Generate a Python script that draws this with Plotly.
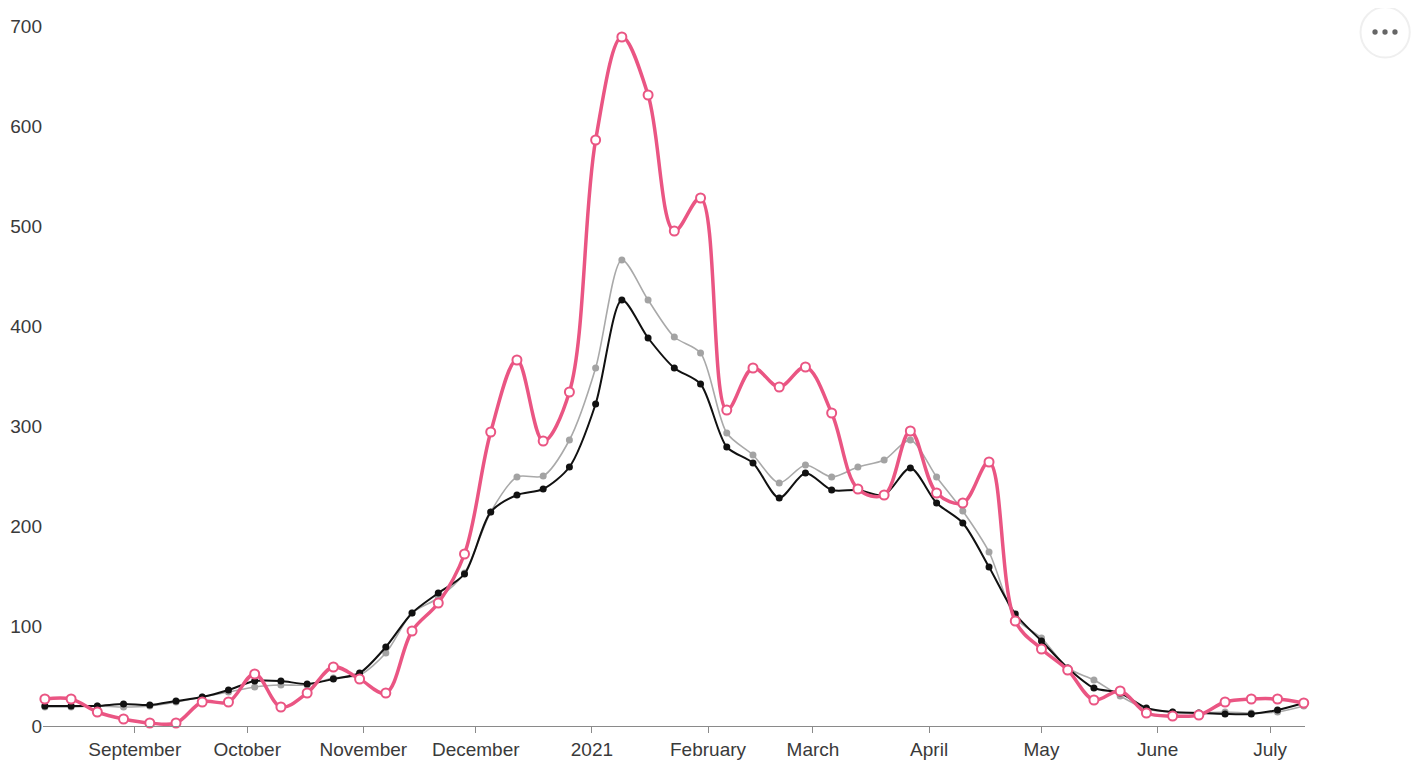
import pandas as pd
import plotly.graph_objects as go

# Weekly dates (Saturdays) from 2020-08-08 to 2021-07-10
dates = pd.date_range("2020-08-08", periods=49, freq="7D")

black_vals = [20, 20, 20, 22, 21, 25, 29, 36, 45, 45, 42, 47, 53, 79, 113, 133,
              152, 214, 231, 237, 259, 322, 426, 388, 358, 342, 279, 263, 228, 253,
              236, 236, 231, 258, 223, 203, 159, 112, 85, 58, 38, 33, 18, 14, 13,
              12, 12, 16, 23]

grey_vals = [19, 19, 20, 19, 20, 24, 29, 34, 39, 41, 41, 48, 51, 73, 113, 128,
             153, 214, 249, 250, 286, 358, 466, 426, 389, 373, 293, 271, 243, 261,
             249, 259, 266, 286, 249, 215, 174, 108, 88, 58, 46, 30, 17, 14, 13,
             14, 13, 14, 20]

pink_vals = [27, 27, 14, 7, 3, 3, 24, 24, 52, 19, 33, 59, 47, 33, 95, 123, 172,
             294, 366, 285, 334, 586, 689, 631, 495, 528, 316, 358, 339, 359, 313,
             237, 231, 295, 233, 223, 264, 105, 77, 56, 26, 35, 13, 10, 11, 24,
             27, 27, 23]

month_ticks = ["2020-09-01", "2020-10-01", "2020-11-01", "2020-12-01", "2021-01-01",
               "2021-02-01", "2021-03-01", "2021-04-01", "2021-05-01", "2021-06-01",
               "2021-07-01"]
month_labels = ["September", "October", "November", "December", "2021", "February",
                "March", "April", "May", "June", "July"]
y_ticks = [0, 100, 200, 300, 400, 500, 600, 700]

PINK = "#ea5583"
FONT = "Liberation Sans, Arial, sans-serif"

fig = go.Figure()
fig.add_trace(go.Scatter(
    x=dates, y=grey_vals, mode="lines+markers",
    line=dict(color="#a9a9a9", width=1.6, shape="spline", smoothing=0.8),
    marker=dict(color="#a3a3a3", size=7), cliponaxis=False, showlegend=False))
fig.add_trace(go.Scatter(
    x=dates, y=black_vals, mode="lines+markers",
    line=dict(color="#111111", width=2, shape="spline", smoothing=0.8),
    marker=dict(color="#111111", size=7), cliponaxis=False, showlegend=False))
fig.add_trace(go.Scatter(
    x=dates, y=pink_vals, mode="lines+markers",
    line=dict(color=PINK, width=3.5, shape="spline", smoothing=1.0),
    marker=dict(color="white", size=9, line=dict(color=PINK, width=2)),
    cliponaxis=False, showlegend=False))

# page body has an 8px margin, so the figure is sized/offset to compensate
fig.update_layout(
    width=1414, height=754,
    margin=dict(l=35, r=117, t=18, b=36),
    paper_bgcolor="white", plot_bgcolor="white",
    font=dict(family=FONT, size=19, color="#3a3a3a"),
    xaxis=dict(
        range=["2020-08-07 12:00", "2021-07-10 08:00"],
        tickvals=month_ticks, ticktext=month_labels,
        showgrid=False, zeroline=False, automargin=False,
        showline=True, linecolor="#8a8a8a", linewidth=1.2,
        ticks="outside", ticklen=6, tickcolor="#8a8a8a", tickwidth=1,
        fixedrange=True,
    ),
    yaxis=dict(
        range=[0, 700], tickvals=y_ticks, automargin=False,
        showgrid=False, zeroline=False, showline=False,
        ticks="", ticklabelstandoff=0,
        fixedrange=True,
    ),
)

# menu button (top-right): faint circle with three dots
fig.add_shape(type="circle", xref="paper", yref="paper",
              x0=1.044, x1=1.083, y0=0.955, y1=1.027,
              line=dict(color="#efefef", width=2), fillcolor="white")
for cx in (1.0555, 1.0634, 1.0713):
    fig.add_shape(type="circle", xref="paper", yref="paper",
                  x0=cx - 0.0021, x1=cx + 0.0021, y0=0.9914 - 0.0038, y1=0.9914 + 0.0038,
                  line=dict(width=0), fillcolor="#666666")

fig.write_html("out.html")
